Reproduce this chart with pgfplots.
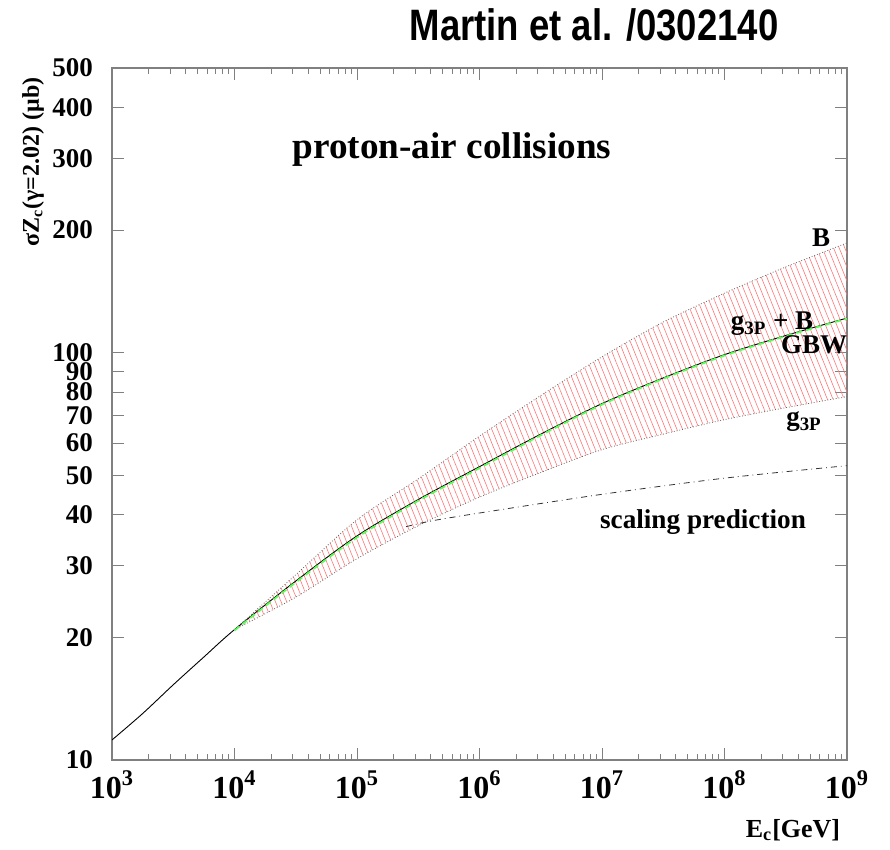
\documentclass[border=0pt]{standalone}
\usepackage{fontspec}
\setmainfont{Liberation Serif}
\newfontfamily\titlefont{Liberation Sans}
\usepackage{graphicx}
\usepackage{pgfplots}
\pgfplotsset{compat=1.18}
\usepgfplotslibrary{fillbetween}
\usetikzlibrary{patterns.meta}

\begin{document}
\begin{tikzpicture}[x=1pt,y=1pt]
\path (0,0) rectangle (445,425);
\begin{axis}[
  at={(56pt,45pt)}, anchor=south west,
  scale only axis, width=367.5pt, height=346pt,
  xmode=log, ymode=log,
  xmin=1e3, xmax=1e9, ymin=10, ymax=500,
  axis line style={gray, line width=0.6pt},
  every tick/.style={gray, line width=0.5pt},
  major tick length=6pt, minor tick length=3pt,
  xtick={1e3,1e4,1e5,1e6,1e7,1e8,1e9},
  xticklabels={10\textsuperscript{3},10\textsuperscript{4},10\textsuperscript{5},10\textsuperscript{6},10\textsuperscript{7},10\textsuperscript{8},10\textsuperscript{9}},
  minor xtick={2e3,3e3,4e3,5e3,6e3,7e3,8e3,9e3,2e4,3e4,4e4,5e4,6e4,7e4,8e4,9e4,2e5,3e5,4e5,5e5,6e5,7e5,8e5,9e5,2e6,3e6,4e6,5e6,6e6,7e6,8e6,9e6,2e7,3e7,4e7,5e7,6e7,7e7,8e7,9e7,2e8,3e8,4e8,5e8,6e8,7e8,8e8,9e8},
  ytick={10,20,30,40,50,60,70,80,90,100,200,300,400,500},
  yticklabels={10,20,30,40,50,60,70,80,90,100,200,300,400,500},
  yminorticks=false,
  xticklabel style={font=\fontsize{16}{16}\selectfont\bfseries, yshift=-2pt},
  yticklabel style={font=\fontsize{13.5}{13.5}\selectfont\bfseries, xshift=-6pt, inner ysep=0pt},
]
\addplot[name path=up, draw=black!60, densely dotted, line width=0.4pt, smooth] coordinates {
(10000,20.9) (31623,28.5) (100000,38.9) (316228,49.0) (1e6,62.4) (3162278,78.5) (1e7,97.7) (31622777,118.9) (1e8,140) (316227766,162.4) (1e9,186)};
\addplot[name path=lo, draw=black!60, densely dotted, line width=0.4pt, smooth] coordinates {
(10000,20.9) (31623,25.1) (100000,31.2) (316228,37.6) (1e6,44.2) (3162278,50.8) (1e7,57.8) (31622777,63.1) (1e8,68.5) (316227766,73.3) (1e9,78.0)};
\addplot[draw=none, pattern={Lines[angle=-68,distance=2.6pt,line width=0.3pt]}, pattern color=red!55!white] fill between[of=up and lo];
% scaling prediction
\addplot[black!80, dash dot, line width=0.4pt, smooth] coordinates {
(251189,37.4) (398107,38.6) (1e6,40.4) (1e7,44.9) (1e8,49.2) (1e9,52.8)};
% g3P + B
\addplot[black, line width=0.45pt, smooth] coordinates {
(1000,11.2) (1778,13.0) (3162,15.3) (5623,17.9) (10000,20.9) (31623,27.5) (100000,35.5) (316228,43.6) (1e6,52.5) (3162278,63.1) (1e7,75.0) (31622777,86.7) (1e8,98.9) (316227766,110.2) (1e9,121.6)};
% GBW
\addplot[green!65!white, densely dashed, line width=0.9pt, smooth] coordinates {
(10000,20.8) (31623,27.3) (100000,35.2) (316228,43.3) (1e6,52.1) (3162278,62.7) (1e7,74.6) (31622777,86.3) (1e8,98.4) (316227766,109.8) (1e9,121.2)};
\end{axis}
% texts
\node at (297,412.5) {\titlefont\bfseries\fontsize{22}{22}\selectfont\scalebox{0.83}[1]{Martin et al. /0302140}};
\node at (226,350) {\bfseries\fontsize{18.6}{18.6}\selectfont proton-air collisions};
\node at (351.5,164) {\bfseries\fontsize{13.6}{13.6}\selectfont scaling prediction};
\node at (410.5,306) {\bfseries\fontsize{13.5}{13.5}\selectfont B};
\node at (386,263) {\bfseries\fontsize{13.5}{13.5}\selectfont g\textsubscript{3P} + B};
\node at (407,252.5) {\bfseries\fontsize{13.5}{13.5}\selectfont GBW};
\node at (402,214) {\bfseries\fontsize{13.5}{13.5}\selectfont g\textsubscript{3P}};
\node[rotate=90] at (16.5,344) {\bfseries\fontsize{12}{12}\selectfont σZ\textsubscript{c}(γ=2.02) (μb)};
\node at (396.5,10) {\bfseries\fontsize{13}{13}\selectfont E\textsubscript{c}[GeV]};
\end{tikzpicture}
\end{document}
